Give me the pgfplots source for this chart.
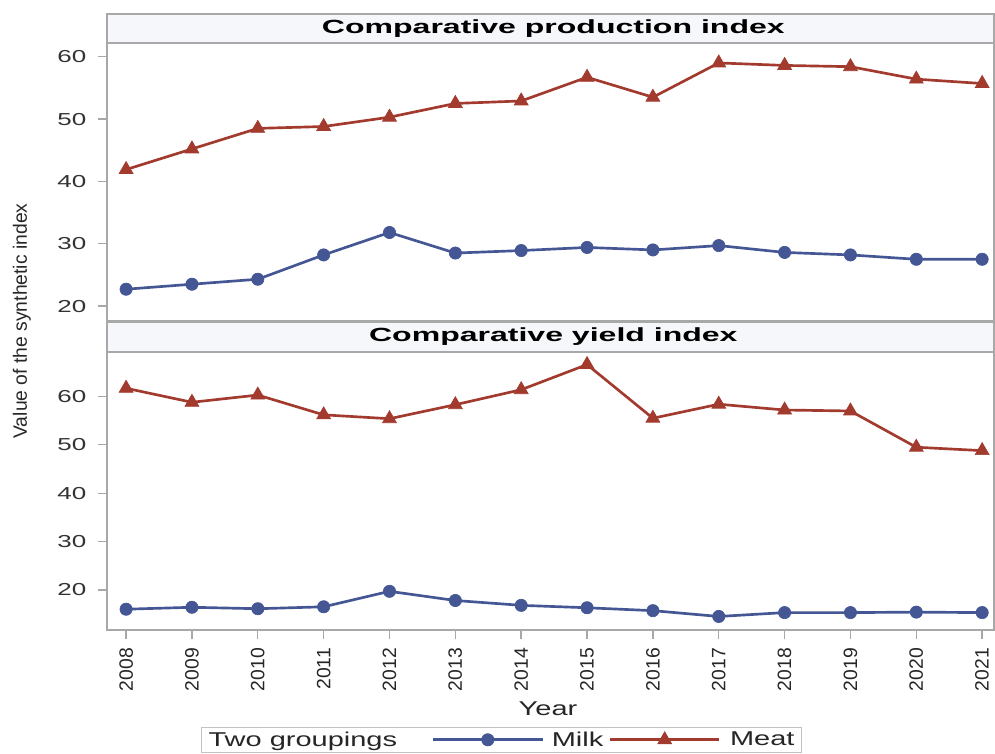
\documentclass[border=0pt]{standalone}
\usepackage{fontspec}
\setmainfont{Liberation Sans}
\newfontfamily\widefont[FakeStretch=1.45]{Liberation Sans}
\newfontfamily\tickfont[FakeStretch=1.5]{Liberation Sans}
\newfontfamily\titlefont[FakeStretch=1.68]{Liberation Sans}
\usepackage{pgfplots}
\usepackage{pgfplotstable}
\pgfplotsset{compat=1.18}
\definecolor{milk}{HTML}{445694}
\definecolor{meat}{HTML}{A23A2E}
\definecolor{hdr}{HTML}{F6F7FB}
\definecolor{frm}{HTML}{A8A8A8}

\pgfplotstableread{
year pm pme ym yme
2008 22.7 41.9 16.0 61.7
2009 23.5 45.2 16.4 58.8
2010 24.3 48.5 16.1 60.3
2011 28.2 48.8 16.5 56.2
2012 31.8 50.3 19.7 55.4
2013 28.5 52.5 17.8 58.3
2014 28.9 52.9 16.8 61.4
2015 29.4 56.7 16.3 66.6
2016 29.0 53.5 15.7 55.5
2017 29.7 59.0 14.5 58.4
2018 28.6 58.6 15.3 57.2
2019 28.2 58.4 15.3 57.0
2020 27.5 56.4 15.4 49.5
2021 27.5 55.7 15.3 48.8
}\data

\pgfplotsset{
  panel/.style={
    scale only axis, width=665.25pt, height=208.5pt, anchor=south west,
    xmin=2007.71, xmax=2021.18,
    axis line style={frm, line width=1.2pt},
    ytick={20,30,40,50,60},
    tick style={frm, line width=1pt},
    tick align=outside, major tick length=7pt,
    ytick pos=left,
    /pgf/number format/assume math mode=true,
    /pgf/number format/1000 sep={},
    yticklabel style={font=\tickfont\fontsize{13}{15}\selectfont, text=black!80, xshift=-5pt},
    clip=false,
  },
  milkst/.style={color=milk, line width=2pt, mark=*, mark size=4.6pt, mark options={fill=milk, draw=milk, line width=0.5pt}},
  meatst/.style={color=meat, line width=2pt, mark=triangle*, mark size=6pt, mark options={fill=meat, draw=meat, line width=0.5pt}},
}

\begin{document}
\begin{tikzpicture}
\useasboundingbox (0,0) rectangle (746.25pt,564.75pt);

% panel headers
\draw[frm, line width=1.2pt, fill=hdr] (80.25pt,532.5pt) rectangle (745.5pt,554.25pt);
\node[text=black, font=\titlefont\bfseries\fontsize{14.3}{16}\selectfont] at (415pt,543.4pt) {Comparative production index};
\draw[frm, line width=1.2pt, fill=hdr] (80.25pt,300.75pt) rectangle (745.5pt,323.25pt);
\node[text=black, font=\titlefont\bfseries\fontsize{14.3}{16}\selectfont] at (415pt,312pt) {Comparative yield index};

\begin{axis}[panel, at={(80.25pt,324pt)}, ymin=17.6, ymax=62.2, xtick=\empty]
\addplot[milkst] table[x=year, y=pm] {\data};
\addplot[meatst] table[x=year, y=pme] {\data};
\end{axis}

\begin{axis}[panel, at={(80.25pt,92.25pt)}, ymin=11.7, ymax=69.2,
  xtick={2008,2009,...,2021}, xtick pos=bottom,
  xticklabel style={rotate=90, anchor=east, font=\fontsize{14.5}{16}\selectfont, text=black!85, xshift=-3pt},
  legend style={at={(0.4448,-0.349)}, anchor=north, legend columns=3, draw=frm!70, line width=0.8pt,
    font=\widefont\fontsize{15}{17}\selectfont, text=black!85, inner xsep=3pt, inner ysep=1pt,
    /tikz/column 2/.style={column sep=24pt}, /tikz/column 3/.style={column sep=4pt},
    /tikz/column 4/.style={column sep=2pt}, /tikz/column 5/.style={column sep=5pt}},
  legend image code/.code={\draw[#1, mark repeat=2, mark phase=2] plot coordinates {(0pt,0pt) (41pt,0pt) (82pt,0pt)};},
]
\addlegendimage{empty legend}
\addlegendentry{Two groupings}
\addplot[milkst] table[x=year, y=ym] {\data};
\addlegendentry{Milk}
\addplot[meatst] table[x=year, y=yme] {\data};
\addlegendentry{Meat}
\end{axis}

\node[rotate=90, font=\fontsize{14.5}{16}\selectfont, text=black!85] at (16.5pt,324pt) {Value of the synthetic index};
\node[font=\widefont\fontsize{15}{17}\selectfont, text=black!85] at (411pt,33.5pt) {Year};
\end{tikzpicture}
\end{document}
